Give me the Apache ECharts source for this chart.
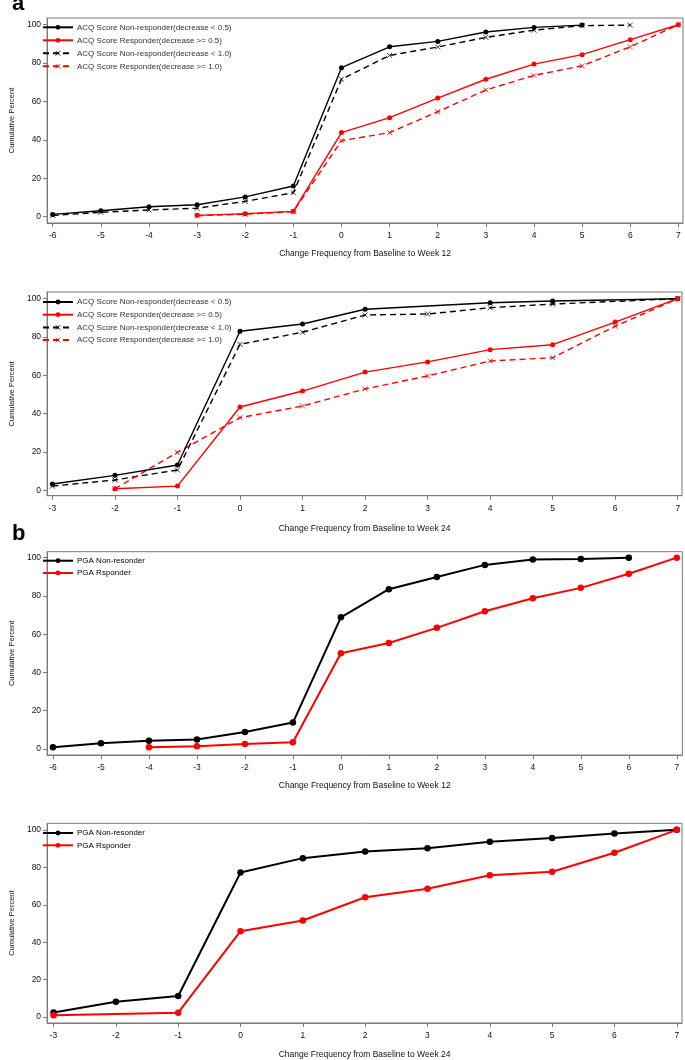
<!DOCTYPE html>
<html>
<head>
<meta charset="utf-8">
<script src="https://cdn.jsdelivr.net/npm/echarts@6/dist/echarts.min.js"></script>
<style>html,body{margin:0;padding:0;background:#fff;}#c{width:685px;height:1060px;}</style>
</head>
<body>
<div id="c"></div>
<script>
// ---------- data ----------
const xTicks12 = [-6,-5,-4,-3,-2,-1,0,1,2,3,4,5,6,7];
const xTicks24 = [-3,-2,-1,0,1,2,3,4,5,6,7];
const yTicks = [0,20,40,60,80,100];

const xName12 = 'Change Frequency from Baseline to Week 12';
const xName24 = 'Change Frequency from Baseline to Week 24';
const yName = 'Cumulative Percent';

const acqNames = ['ACQ Score Non-responder(decrease < 0.5)','ACQ Score Responder(decrease >= 0.5)','ACQ Score Non-responder(decrease < 1.0)','ACQ Score Responder(decrease >= 1.0)'];
const pgaNames = ['PGA Non-resonder','PGA Rsponder'];

// Panel a, week 12
const acq12_nr05_x = [-6,-5,-4,-3,-2,-1,0,1,2,3,4,5];
const acq12_nr05_y = [1.2,3.1,5.2,6.2,10.3,16.0,77.6,88.5,91.3,96.2,98.6,99.8];
const acq12_r05_x = [-3,-2,-1,0,1,2,3,4,5,6,7];
const acq12_r05_y = [0.7,1.6,2.8,43.8,51.6,61.8,71.6,79.5,84.4,92.2,100];
const acq12_nr10_x = [-6,-5,-4,-3,-2,-1,0,1,2,3,4,5,6];
const acq12_nr10_y = [0.7,2.3,3.5,4.4,8.0,12.5,71.6,84.0,88.4,93.4,97.2,99.5,99.8];
const acq12_r10_x = [-3,-2,-1,0,1,2,3,4,5,6,7];
const acq12_r10_y = [0.5,1.3,2.6,39.6,43.8,54.7,66.0,73.6,78.6,88.5,100];

// Panel a, week 24
const acq24_nr05_x = [-3,-2,-1,0,1,2,4,5,7];
const acq24_nr05_y = [3.3,7.8,13.2,83.0,86.8,94.5,97.9,98.8,100];
const acq24_r05_x = [-2,-1,0,1,2,3,4,5,6,7];
const acq24_r05_y = [0.8,2.2,43.5,51.8,61.7,67.0,73.4,76.0,87.8,100];
const acq24_nr10_x = [-3,-2,-1,0,1,2,3,4,5,7];
const acq24_nr10_y = [2.2,5.4,10.6,76.2,82.5,91.5,92.0,95.3,97.2,100];
const acq24_r10_x = [-2,-1,0,1,2,3,4,5,6,7];
const acq24_r10_y = [0.8,19.8,37.9,44.0,52.9,59.7,67.5,69.2,85.6,100];

// Panel b, week 12
const pga12_nr_x = [-6,-5,-4,-3,-2,-1,0,1,2,3,4,5,6];
const pga12_nr_y = [0.9,3.0,4.3,5.0,8.9,13.8,68.8,83.5,89.9,96.2,99.0,99.3,100];
const pga12_r_x = [-4,-3,-2,-1,0,1,2,3,4,5,6,7];
const pga12_r_y = [0.9,1.4,2.6,3.5,50.0,55.4,63.3,72.0,78.8,84.2,91.6,100];

// Panel b, week 24
const pga24_nr_x = [-3,-2,-1,0,1,2,3,4,5,6,7];
const pga24_nr_y = [2.5,8.2,11.3,77.2,84.9,88.4,90.2,93.6,95.7,98.1,100];
const pga24_r_x = [-3,-1,0,1,2,3,4,5,6,7];
const pga24_r_y = [1.0,2.4,45.9,51.6,64.0,68.5,75.8,77.6,87.8,100];

// ---------- build ----------
const zip = (xs, ys) => xs.map((x, i) => [x, ys[i]]);
const FONT = '"Liberation Sans", Arial, sans-serif';
const FRAME = '#7a7a7a';
const XSYM = 'path://M0,0L10,10M10,0L0,10';

const panels = [
  {grid:{left:37, top:18, width:646, height:205}, x:[-6.117,7.096], y:[-3.28,103.5], ticks:xTicks12, name:xName12, nameGap:26,
   legendTop:23.3, legendGap:5, lw:1.4, ss:5, legendColor:'#333'},
  {grid:{left:37.3, top:292, width:644.7, height:203.7}, x:[-3.085,7.068], y:[-2.82,103.5], ticks:xTicks24, name:xName24, nameGap:28,
   legendTop:298, legendGap:4.7, lw:1.4, ss:5, legendColor:'#333'},
  {grid:{left:36.7, top:551.7, width:645.6, height:203.3}, x:[-6.123,7.115], y:[-3.14,103.1], ticks:xTicks12, name:xName12, nameGap:26,
   legendTop:556.7, legendGap:4.3, lw:2, ss:6.5, legendColor:'#000'},
  {grid:{left:36.7, top:823.3, width:645.3, height:204.4}, x:[-3.104,7.084], y:[-3.13,103.5], ticks:xTicks24, name:xName24, nameGap:27,
   legendTop:829, legendGap:4.3, lw:2, ss:6.5, legendColor:'#000'}
];

const seriesDefs = [
  [ {n:acqNames[0], d:zip(acq12_nr05_x, acq12_nr05_y), c:'#000', dash:false},
    {n:acqNames[1], d:zip(acq12_r05_x, acq12_r05_y), c:'#ff0000', dash:false},
    {n:acqNames[2], d:zip(acq12_nr10_x, acq12_nr10_y), c:'#000', dash:true},
    {n:acqNames[3], d:zip(acq12_r10_x, acq12_r10_y), c:'#ff0000', dash:true} ],
  [ {n:acqNames[0], d:zip(acq24_nr05_x, acq24_nr05_y), c:'#000', dash:false},
    {n:acqNames[1], d:zip(acq24_r05_x, acq24_r05_y), c:'#ff0000', dash:false},
    {n:acqNames[2], d:zip(acq24_nr10_x, acq24_nr10_y), c:'#000', dash:true},
    {n:acqNames[3], d:zip(acq24_r10_x, acq24_r10_y), c:'#ff0000', dash:true} ],
  [ {n:pgaNames[0], d:zip(pga12_nr_x, pga12_nr_y), c:'#000', dash:false},
    {n:pgaNames[1], d:zip(pga12_r_x, pga12_r_y), c:'#ff0000', dash:false} ],
  [ {n:pgaNames[0], d:zip(pga24_nr_x, pga24_nr_y), c:'#000', dash:false},
    {n:pgaNames[1], d:zip(pga24_r_x, pga24_r_y), c:'#ff0000', dash:false} ]
];

const option = {
  animation: false,
  backgroundColor: '#fff',
  textStyle: {fontFamily: FONT},
  grid: [], xAxis: [], yAxis: [], series: [], legend: [],
  graphic: [
    {type:'text', left:12, top:-7, style:{text:'a', font:'bold 22px ' + FONT, fill:'#000'}},
    {type:'text', left:12, top:523, style:{text:'b', font:'bold 22px ' + FONT, fill:'#000'}}
  ]
};

panels.forEach((p, i) => {
  option.grid.push(Object.assign({show:true, borderColor:FRAME, borderWidth:1, backgroundColor:'transparent', containLabel:false}, p.grid));
  option.xAxis.push({
    type:'value', gridIndex:i, min:p.x[0], max:p.x[1],
    name:p.name, nameLocation:'middle', nameGap:p.nameGap,
    nameTextStyle:{fontSize:8.5, color:'#111', fontFamily:FONT},
    axisLine:{show:true, onZero:false, lineStyle:{color:FRAME, width:1}},
    axisTick:{show:true, length:4, lineStyle:{color:FRAME}, customValues:p.ticks},
    axisLabel:{fontSize:8.5, color:'#111', margin:8, customValues:p.ticks, fontFamily:FONT},
    splitLine:{show:false}
  });
  option.yAxis.push({
    type:'value', gridIndex:i, min:p.y[0], max:p.y[1],
    name:yName, nameLocation:'middle', nameGap:29, nameRotate:90,
    nameTextStyle:{fontSize:7.5, color:'#111', fontFamily:FONT},
    axisLine:{show:true, onZero:false, lineStyle:{color:FRAME, width:1}},
    axisTick:{show:true, length:4, lineStyle:{color:FRAME}, customValues:yTicks},
    axisLabel:{fontSize:8.5, color:'#111', margin:6, customValues:yTicks, fontFamily:FONT},
    splitLine:{show:false}
  });
  const names = [];
  seriesDefs[i].forEach(s => {
    names.push(s.n);
    option.series.push({
      type:'line', name:s.n, xAxisIndex:i, yAxisIndex:i, data:s.d,
      symbol: s.dash ? XSYM : 'circle',
      symbolSize: s.dash ? 5 : p.ss,
      showAllSymbol:true,
      lineStyle:{color:s.c, width:p.lw, type: s.dash ? [6,4] : 'solid'},
      itemStyle: s.dash ? {color:s.c, borderColor:s.c, borderWidth:0.8} : {color:s.c, borderWidth:0},
      emphasis:{disabled:true},
      z: s.dash ? 2 : 3
    });
  });
  option.legend.push({
    data:names, orient:'vertical', left:42, top:p.legendTop, padding:0,
    itemWidth:30, itemHeight:6, itemGap:p.legendGap, selectedMode:false,
    itemStyle:{borderWidth:0.8},
    textStyle:{fontSize:8, color:p.legendColor, fontFamily:FONT, padding:[0,0,0,-1]}
  });
});

const chart = echarts.init(document.getElementById('c'), null, {renderer:'canvas'});
chart.setOption(option);
</script>
</body>
</html>
